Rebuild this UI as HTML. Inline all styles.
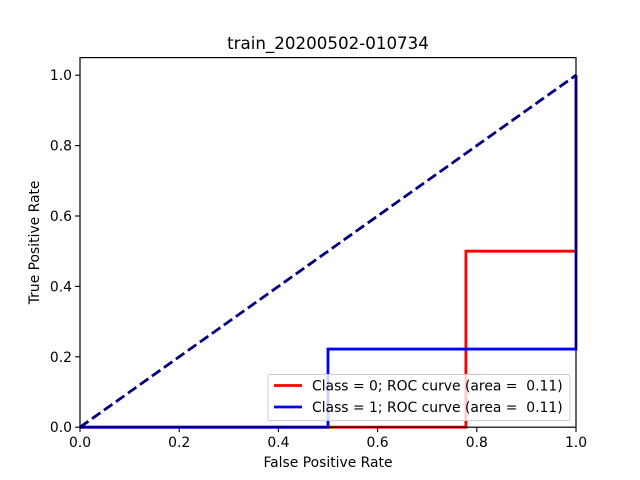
<!DOCTYPE html>
<html><head><meta charset="utf-8"><style>
body{margin:0;background:#fff}
svg{display:block;font-family:"DejaVu Sans","Liberation Sans",sans-serif}
text{white-space:pre}
</style></head><body>
<svg id="chart" width="640" height="480" viewBox="0 0 640 480">
<rect width="640" height="480" fill="#fff"/>
<g id="plot"></g>
</svg>
<script>
const xTicks=[0,0.2,0.4,0.6,0.8,1.0];
const yTicks=[0,0.2,0.4,0.6,0.8,1.0];
const class0Fpr=[0,0.778,0.778,1,1];
const class0Tpr=[0,0,0.5,0.5,1];
const class1Fpr=[0,0.5,0.5,1,1];
const class1Tpr=[0,0,0.222,0.222,1];
const diagX=[0,1];
const diagY=[0,1];
const legendLabels=["Class = 0; ROC curve (area =  0.11)","Class = 1; ROC curve (area =  0.11)"];
const NS="http://www.w3.org/2000/svg";
const L=80,R=576,T=57.6,B=427.2;
const sx=v=>L+(v-0)/(1-0)*(R-L);
const sy=v=>B-(v-0)/(1.05-0)*(B-T);
const g=document.getElementById('plot');
function mk(tag,attrs,parent){const e=document.createElementNS(NS,tag);for(const k in attrs)e.setAttribute(k,attrs[k]);(parent||g).appendChild(e);return e;}
function line(xs,ys,color,name,dash){
  const p=mk('polyline',{points:xs.map((x,i)=>sx(x)+','+sy(ys[i])).join(' '),fill:'none',stroke:color,'stroke-width':2.8,'stroke-dasharray':dash||''});
  
  
}
line(class0Fpr,class0Tpr,'#ff0000','class-0-roc-curve');
line(class1Fpr,class1Tpr,'#0000ff','class-1-roc-curve');
line(diagX,diagY,'#000080','chance-diagonal','10.3,4.4');
const frame=mk('rect',{x:L,y:T,width:R-L,height:B-T,fill:'none',stroke:'#000','stroke-width':1.2});


xTicks.forEach(v=>{
  const t=mk('line',{x1:sx(v),x2:sx(v),y1:B,y2:B+4.9,stroke:'#000','stroke-width':1.1});
  
  
  const l=mk('text',{x:sx(v),y:B+20,'text-anchor':'middle','font-size':13.9});
  l.textContent=v.toFixed(1);
  
  
});
yTicks.forEach(v=>{
  const t=mk('line',{x1:L-4.9,x2:L,y1:sy(v),y2:sy(v),stroke:'#000','stroke-width':1.1});
  
  
  const l=mk('text',{x:L-8,y:sy(v)+5,'text-anchor':'end','font-size':13.9});
  l.textContent=v.toFixed(1);
  
  
});
const xt=mk('text',{x:(L+R)/2,y:467,'text-anchor':'middle','font-size':13.9});
xt.textContent='False Positive Rate';


const yt=mk('text',{x:39,y:(T+B)/2,'text-anchor':'middle','font-size':13.9,transform:'rotate(-90 39 '+(T+B)/2+')'});
yt.textContent='True Positive Rate';


const ti=mk('text',{x:(L+R)/2,y:49,'text-anchor':'middle','font-size':16.7});
ti.textContent='train_20200502-010734';


const lg=mk('g',{});


mk('rect',{x:268,y:374.5,width:302,height:46,rx:2,fill:'#fff','fill-opacity':0.8,stroke:'#ccc','stroke-width':1},lg);
const colors=['#ff0000','#0000ff'];
legendLabels.forEach((s,i)=>{
  const y=385.5+i*21.5;
  const e=mk('g',{},lg);
  
  
  mk('line',{x1:274,x2:302,y1:y,y2:y,stroke:colors[i],'stroke-width':2.8},e);
  const t=mk('text',{x:312,y:y+5,'font-size':13.9},e);
  t.textContent=s;
});
</script>
</body></html>
